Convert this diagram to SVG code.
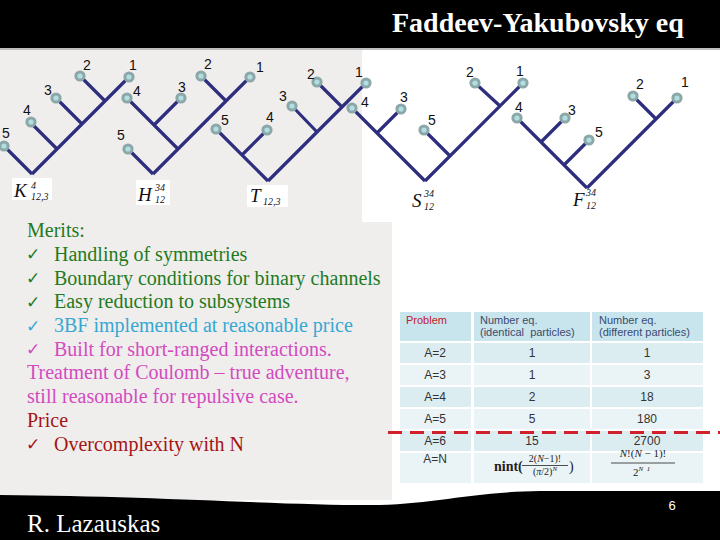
<svg xmlns="http://www.w3.org/2000/svg" width="720" height="540" viewBox="0 0 720 540">
<defs>
<style>
.br{stroke:#2e2e7e;stroke-width:3.2;fill:none;stroke-linecap:butt}
.lf{fill:#8ca7a8}
.lc{fill:#b2dde2}
.nl{font-family:"Liberation Sans",Arial,sans-serif;font-size:14px;fill:#111;text-anchor:middle}
.mt{font-family:"Liberation Serif","Times New Roman",serif;font-style:italic;fill:#111}
.tx{font-family:"Liberation Serif","Times New Roman",serif;font-size:20px}
.ck{font-family:"DejaVu Sans",sans-serif;font-size:17px;font-weight:bold}
.g{fill:#1e7b1e}.c{fill:#35a8d2}.m{fill:#d24bbf}.r{fill:#a31515}
.th{font-family:"Liberation Sans",Arial,sans-serif;font-size:11px;fill:#3c4a70}
.td{font-family:"Liberation Sans",Arial,sans-serif;font-size:12px;fill:#333;text-anchor:middle}
.fm{font-family:"Liberation Serif","Times New Roman",serif;fill:#222}
</style>
</defs>
<rect width="720" height="540" fill="#ffffff"/>
<rect x="0" y="50" width="392" height="450" fill="#f0eded"/>
<rect x="362" y="50" width="358" height="172" fill="#ffffff"/>
<rect x="0" y="0" width="720" height="48" fill="#000"/>
<rect x="0" y="48" width="720" height="2" fill="#bdbdbd"/>
<path d="M0,495 C150,496 280,505 370,505 C430,505 470,492 540,491 L720,491 L720,540 L0,540 Z" fill="#000"/>
<text x="392" y="32" font-family="Liberation Serif,'Times New Roman',serif" font-size="28" font-weight="bold" fill="#fff">Faddeev-Yakubovsky eq</text>

<g id="connectors">
<path class="br" d="M32,174 L129,77 M32,174 L4,146 M57,149 L31,123 M82,124 L56,98 M105,101 L80,76"/>
<path class="br" d="M153,174 L250,77 M153,174 L128,149 M178,149 L127,98 M154,125 L181,98 M226,101 L201,76"/>
<path class="br" d="M268,181 L366,83 M268,181 L216,129 M242,155 L267,130 M317,132 L292,106 M342,107 L317,82"/>
<path class="br" d="M425,181 L523,83 M425,181 L352,108 M377,133 L401,109 M450,156 L424,130 M500,106 L475,83"/>
<path class="br" d="M587,188 L677,98 M587,188 L517,118 M541,142 L565,118 M564,165 L589,140 M656,119 L633,96"/>
</g>

<g id="treeK">
<g id="k5"><circle class="lf" cx="4" cy="146" r="5.6"/><circle class="lc" cx="4" cy="146" r="2.6"/><text class="nl" x="6" y="138">5</text></g>
<g id="k4"><circle class="lf" cx="31" cy="122" r="5.6"/><circle class="lc" cx="31" cy="122" r="2.6"/><text class="nl" x="27" y="115">4</text></g>
<g id="k3"><circle class="lf" cx="56" cy="98" r="5.6"/><circle class="lc" cx="56" cy="98" r="2.6"/><text class="nl" x="48" y="95">3</text></g>
<g id="k2"><circle class="lf" cx="80" cy="76" r="5.6"/><circle class="lc" cx="80" cy="76" r="2.6"/><text class="nl" x="87" y="70">2</text></g>
<g id="k1"><circle class="lf" cx="129" cy="77" r="5.6"/><circle class="lc" cx="129" cy="77" r="2.6"/><text class="nl" x="133" y="70">1</text></g>
<g id="kLabel"><rect x="12" y="178" width="40" height="22" fill="#fff"/><text class="mt" x="14" y="197" font-size="19">K</text><text class="mt" x="31" y="189" font-size="10" font-style="normal">4</text><text class="mt" x="31" y="200" font-size="10" font-style="normal">12,3</text></g>
</g>

<g id="treeH">
<g id="h5"><circle class="lf" cx="128" cy="149" r="5.6"/><circle class="lc" cx="128" cy="149" r="2.6"/><text class="nl" x="121" y="140">5</text></g>
<g id="h4"><circle class="lf" cx="127" cy="98" r="5.6"/><circle class="lc" cx="127" cy="98" r="2.6"/><text class="nl" x="137" y="96">4</text></g>
<g id="h3"><circle class="lf" cx="181" cy="98" r="5.6"/><circle class="lc" cx="181" cy="98" r="2.6"/><text class="nl" x="182" y="92">3</text></g>
<g id="h2"><circle class="lf" cx="201" cy="76" r="5.6"/><circle class="lc" cx="201" cy="76" r="2.6"/><text class="nl" x="208" y="69">2</text></g>
<g id="h1"><circle class="lf" cx="250" cy="77" r="5.6"/><circle class="lc" cx="250" cy="77" r="2.6"/><text class="nl" x="260" y="72">1</text></g>
<g id="hLabel"><rect x="136" y="180" width="34" height="25" fill="#fff"/><text class="mt" x="138" y="201" font-size="19">H</text><text class="mt" x="155" y="191" font-size="10" font-style="normal">34</text><text class="mt" x="155" y="203" font-size="10" font-style="normal">12</text></g>
</g>

<g id="treeT">
<g id="t5"><circle class="lf" cx="216" cy="129" r="5.6"/><circle class="lc" cx="216" cy="129" r="2.6"/><text class="nl" x="225" y="125">5</text></g>
<g id="t4"><circle class="lf" cx="267" cy="130" r="5.6"/><circle class="lc" cx="267" cy="130" r="2.6"/><text class="nl" x="270" y="122">4</text></g>
<g id="t3"><circle class="lf" cx="292" cy="106" r="5.6"/><circle class="lc" cx="292" cy="106" r="2.6"/><text class="nl" x="283" y="101">3</text></g>
<g id="t2"><circle class="lf" cx="317" cy="82" r="5.6"/><circle class="lc" cx="317" cy="82" r="2.6"/><text class="nl" x="311" y="79">2</text></g>
<g id="t1"><circle class="lf" cx="366" cy="83" r="5.6"/><circle class="lc" cx="366" cy="83" r="2.6"/><text class="nl" x="359" y="77">1</text></g>
<g id="tLabel"><rect x="247" y="185" width="41" height="22" fill="#fff"/><text class="mt" x="250" y="202" font-size="19">T</text><text class="mt" x="263" y="205" font-size="10" font-style="normal">12,3</text></g>
</g>

<g id="treeS">
<g id="s4"><circle class="lf" cx="352" cy="108" r="5.6"/><circle class="lc" cx="352" cy="108" r="2.6"/><text class="nl" x="365" y="107">4</text></g>
<g id="s3"><circle class="lf" cx="401" cy="109" r="5.6"/><circle class="lc" cx="401" cy="109" r="2.6"/><text class="nl" x="404" y="102">3</text></g>
<g id="s5"><circle class="lf" cx="424" cy="130" r="5.6"/><circle class="lc" cx="424" cy="130" r="2.6"/><text class="nl" x="432" y="125">5</text></g>
<g id="s2"><circle class="lf" cx="475" cy="83" r="5.6"/><circle class="lc" cx="475" cy="83" r="2.6"/><text class="nl" x="470" y="77">2</text></g>
<g id="s1"><circle class="lf" cx="523" cy="83" r="5.6"/><circle class="lc" cx="523" cy="83" r="2.6"/><text class="nl" x="520" y="76">1</text></g>
<g id="sLabel"><text class="mt" x="412" y="207" font-size="19">S</text><text class="mt" x="424" y="197" font-size="10" font-style="normal">34</text><text class="mt" x="424" y="210" font-size="10" font-style="normal">12</text></g>
</g>

<g id="treeF">
<g id="f4"><circle class="lf" cx="517" cy="118" r="5.6"/><circle class="lc" cx="517" cy="118" r="2.6"/><text class="nl" x="519" y="112">4</text></g>
<g id="f3"><circle class="lf" cx="565" cy="118" r="5.6"/><circle class="lc" cx="565" cy="118" r="2.6"/><text class="nl" x="572" y="115">3</text></g>
<g id="f5"><circle class="lf" cx="589" cy="140" r="5.6"/><circle class="lc" cx="589" cy="140" r="2.6"/><text class="nl" x="599" y="137">5</text></g>
<g id="f2"><circle class="lf" cx="633" cy="96" r="5.6"/><circle class="lc" cx="633" cy="96" r="2.6"/><text class="nl" x="640" y="89">2</text></g>
<g id="f1"><circle class="lf" cx="677" cy="98" r="5.6"/><circle class="lc" cx="677" cy="98" r="2.6"/><text class="nl" x="685" y="87">1</text></g>
<g id="fLabel"><text class="mt" x="573" y="206" font-size="19">F</text><text class="mt" x="586" y="196" font-size="10" font-style="normal" fill="#1a1a50">34</text><text class="mt" x="586" y="209" font-size="10" font-style="normal" fill="#1a1a50">12</text></g>
</g>

<g id="merits">
<text class="tx g" x="27" y="237">Merits:</text>
<text class="ck g" x="26" y="260">✓</text><text class="tx g" x="54" y="260.5">Handling of symmetries</text>
<text class="ck g" x="26" y="284">✓</text><text class="tx g" x="54" y="284.5">Boundary conditions for binary channels</text>
<text class="ck g" x="26" y="307.5">✓</text><text class="tx g" x="54" y="308">Easy reduction to subsystems</text>
<text class="ck c" x="26" y="331.5">✓</text><text class="tx c" x="54" y="332">3BF implemented at reasonable price</text>
<text class="ck m" x="26" y="355">✓</text><text class="tx m" x="54" y="355.5">Built for short-ranged interactions.</text>
<text class="tx m" x="27" y="379">Treatment of Coulomb – true adventure,</text>
<text class="tx m" x="27" y="403">still reasonable for repulsive case.</text>
<text class="tx r" x="27" y="427">Price</text>
<text class="ck r" x="26" y="450">✓</text><text class="tx r" x="54" y="450.5">Overcomplexity with N</text>
</g>

<g id="table">
<rect x="400" y="312" width="71" height="29" fill="#c8e4ec"/>
<rect x="474" y="312" width="116" height="29" fill="#c8e4ec"/>
<rect x="592" y="312" width="111" height="29" fill="#c8e4ec"/>
<g fill="#dcedf2">
<rect x="400" y="343" width="71" height="20"/><rect x="474" y="343" width="116" height="20"/><rect x="592" y="343" width="111" height="20"/>
<rect x="400" y="387" width="71" height="20"/><rect x="474" y="387" width="116" height="20"/><rect x="592" y="387" width="111" height="20"/>
<rect x="400" y="431" width="71" height="20"/><rect x="474" y="431" width="116" height="20"/><rect x="592" y="431" width="111" height="20"/>
</g>
<g fill="#eaf4f7">
<rect x="400" y="365" width="71" height="20"/><rect x="474" y="365" width="116" height="20"/><rect x="592" y="365" width="111" height="20"/>
<rect x="400" y="409" width="71" height="20"/><rect x="474" y="409" width="116" height="20"/><rect x="592" y="409" width="111" height="20"/>
<rect x="400" y="453" width="71" height="30"/><rect x="474" y="453" width="116" height="30"/><rect x="592" y="453" width="111" height="30"/>
</g>
<text class="th" x="406" y="324" style="fill:#c0202a">Problem</text>
<text class="th" x="480" y="324">Number eq.</text>
<text class="th" x="480" y="336" xml:space="preserve">(identical  particles)</text>
<text class="th" x="599" y="324">Number eq.</text>
<text class="th" x="599" y="336">(different particles)</text>
<text class="td" x="435" y="357">A=2</text><text class="td" x="532" y="357">1</text><text class="td" x="647" y="357">1</text>
<text class="td" x="435" y="379">A=3</text><text class="td" x="532" y="379">1</text><text class="td" x="647" y="379">3</text>
<text class="td" x="435" y="401">A=4</text><text class="td" x="532" y="401">2</text><text class="td" x="647" y="401">18</text>
<text class="td" x="435" y="423">A=5</text><text class="td" x="532" y="423">5</text><text class="td" x="647" y="423">180</text>
<text class="td" x="435" y="445">A=6</text><text class="td" x="532" y="445">15</text><text class="td" x="647" y="445">2700</text>
<text class="td" x="435" y="463">A=N</text>
<text class="fm" x="494" y="471" font-size="14" font-weight="bold">nint(</text>
<text class="fm" x="545" y="462" font-size="10" text-anchor="middle">2(<tspan font-style="italic">N</tspan>−1)!</text>
<line x1="522" y1="465.5" x2="568" y2="465.5" stroke="#222" stroke-width="0.8"/>
<text class="fm" x="545" y="475" font-size="10" text-anchor="middle">(<tspan font-style="italic">π</tspan>/2)<tspan font-size="7" dy="-4" font-style="italic">N</tspan></text>
<text class="fm" x="569" y="471" font-size="14">)</text>
<text class="fm" x="643" y="457" font-size="11" text-anchor="middle"><tspan font-style="italic">N</tspan>!(<tspan font-style="italic">N</tspan> − 1)!</text>
<line x1="611" y1="463" x2="675" y2="463" stroke="#222" stroke-width="0.8"/>
<text class="fm" x="633" y="476" font-size="11">2<tspan font-size="7" dy="-5" font-style="italic" xml:space="preserve">N  1</tspan></text>
</g>

<line x1="388" y1="432.5" x2="720" y2="432.5" stroke="#d0202a" stroke-width="3" stroke-dasharray="14 8"/>

<text x="672" y="510" font-family="Liberation Sans,Arial,sans-serif" font-size="13" fill="#fff" text-anchor="middle">6</text>
<text x="27" y="532" font-family="Liberation Serif,'Times New Roman',serif" font-size="25" fill="#fff">R. Lazauskas</text>
</svg>
